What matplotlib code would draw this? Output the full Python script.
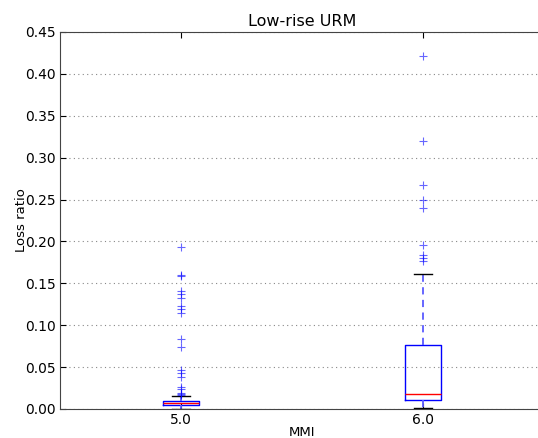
import matplotlib
matplotlib.use("Agg")
import matplotlib.pyplot as plt

labels = ["5.0", "6.0"]
q1 = [0.0051, 0.0107]
med = [0.0075, 0.0183]
q3 = [0.0099, 0.0764]
whislo = [0.0005, 0.0012]
whishi = [0.0152, 0.161]
fliers_5 = [0.193, 0.160, 0.1588, 0.141, 0.137, 0.133, 0.1226, 0.119, 0.1146,
            0.0836, 0.0736, 0.0466, 0.0433, 0.0386, 0.0266, 0.0235, 0.0195,
            0.0175, 0.0165]
fliers_6 = [0.421, 0.320, 0.267, 0.250, 0.240, 0.196, 0.184, 0.180, 0.177]
fliers = [fliers_5, fliers_6]

stats = []
for i in range(len(labels)):
    stats.append(dict(label=labels[i], q1=q1[i], med=med[i], q3=q3[i],
                      whislo=whislo[i], whishi=whishi[i], fliers=fliers[i]))

fig = plt.figure(figsize=(5.38, 4.38), dpi=100)
ax = fig.add_axes([60/538, (438-409)/438, 484/538, 377/438])

ax.bxp(stats, positions=[1, 2], widths=0.15,
       boxprops=dict(color="blue", linewidth=1),
       medianprops=dict(color="red", linewidth=1),
       whiskerprops=dict(color="#5a5aff", linestyle=(0, (4, 3)), linewidth=1.3),
       capprops=dict(color="black", linewidth=1),
       flierprops=dict(marker="+", markeredgecolor="blue", markersize=6,
                       linestyle="none", markeredgewidth=0.8, alpha=0.6))

ax.set_xlim(0.5, 2.5)
ax.set_ylim(0, 0.45)
ax.set_yticks([0.0, 0.05, 0.10, 0.15, 0.20, 0.25, 0.30, 0.35, 0.40, 0.45])
ax.set_yticklabels(["%.2f" % v for v in ax.get_yticks()])
ax.yaxis.grid(True, linestyle=(0, (1, 3)), color="#888888", linewidth=0.8)
ax.tick_params(direction="in", top=True, right=True, labelsize=10, length=4,
               pad=3)
for s in ax.spines.values():
    s.set_color("#444444")
ax.set_title("Low-rise URM", fontsize=11.5, pad=4)
ax.set_xlabel("MMI", fontsize=9.5, labelpad=-1)
ax.set_ylabel("Loss ratio", fontsize=9.5, labelpad=-2)

fig.savefig("out.png", dpi=100)
